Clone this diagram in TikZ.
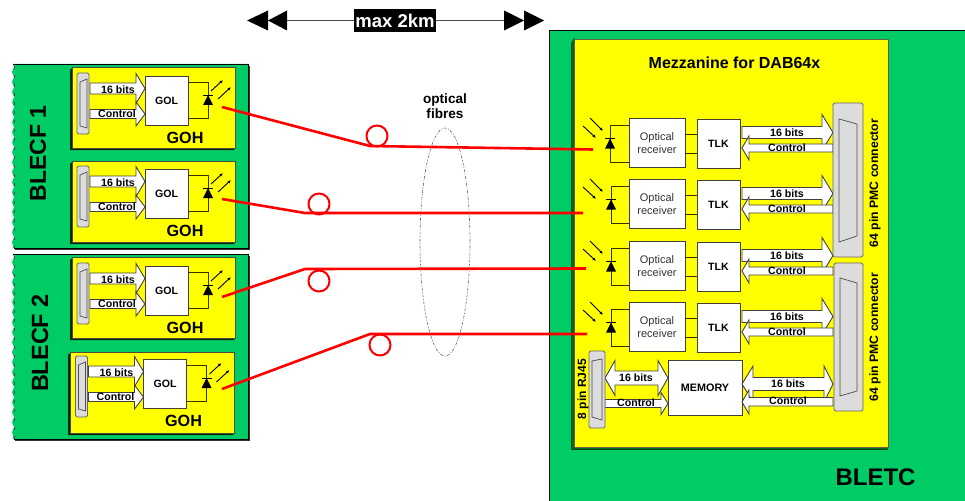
\documentclass[tikz,border=0pt]{standalone}
\usepackage{fontspec}
\setmainfont{Liberation Sans}
\usetikzlibrary{decorations.pathmorphing,arrows.meta,shapes.geometric}
\definecolor{bgreen}{HTML}{00CC66}
\definecolor{dgreen}{HTML}{006633}
\definecolor{byellow}{HTML}{FFFF00}
\definecolor{cgrey}{HTML}{DCDCDC}
\definecolor{wirec}{HTML}{333300}
\newcommand\sz[1]{\fontsize{#1}{#1}\selectfont\bfseries}
\tikzset{
  x=1pt,y=-1pt,
  every node/.style={inner sep=0pt,outer sep=0pt},
  blk/.style={draw=black!85!yellow,line width=.9pt,fill=white,line join=miter},
  wirel/.style={draw=wirec,line width=.9pt},
  ray/.style={draw=black,line width=.9pt,-{Latex[length=3.5pt,width=3pt]}},
  whitebox/.style={draw=black!85!yellow,line width=.9pt,fill=white,minimum width=#1},
  conn/.style={draw=black!60,line width=.8pt,fill=cgrey,rounded corners=1.5pt},
  connin/.style={draw=black!70,line width=.7pt,fill=cgrey},
  lab/.style={font=\sz{10.6}},
  fibre/.style={draw=red,line width=2.6pt},
  ring/.style={draw=red,line width=2pt,circle,minimum size=21pt},
  heading/.style={font=\sz{#1},text=black},
  headtip/.style={fill=black}
}
% right-pointing block arrow: tail x, tip x, base x, y, body half, head half
\newcommand\blockR[6]{\draw[blk] ({#1},{#4-#5}) -- ({#3},{#4-#5}) -- ({#3},{#4-#6}) -- ({#2},{#4}) -- ({#3},{#4+#6}) -- ({#3},{#4+#5}) -- ({#1},{#4+#5}) -- cycle;}
% double block arrow: left tip, left base, right base, right tip, y, body half, head half
\newcommand\blockD[7]{\draw[blk] ({#1},{#5}) -- ({#2},{#5-#7}) -- ({#2},{#5-#6}) -- ({#3},{#5-#6}) -- ({#3},{#5-#7}) -- ({#4},{#5}) -- ({#3},{#5+#7}) -- ({#3},{#5+#6}) -- ({#2},{#5+#6}) -- ({#2},{#5+#7}) -- cycle;}
% shaded panel
\newcommand\panel[4]{\fill[black!85!green] ({#1+1},{#2}) -- ({#1-2},{#2+3}) -- ({#1-2},{#4+2}) -- ({#3-1},{#4+2}) -- ({#3},{#4}) -- cycle;
  \draw[draw=black!80!yellow,line width=.7pt,fill=byellow] (#1,#2) rectangle (#3,#4);}
% diode, triangle pointing up
\newcommand\diode[3]{\fill[black] ({#1},{#2}) -- ({#1-5},{#3}) -- ({#1+5},{#3}) -- cycle;
  \draw[black,line width=.9pt] ({#1-5},{#2}) -- ({#1+5},{#2});}
% GOH contents
\newcommand\gohbody[3]{\begin{scope}[shift={(#2,#3)}]
  \node[whitebox=43pt,minimum height=49pt] (gol#1) at (166.5,100.5) {};
  \node[lab] (goltext#1) at (gol#1) {GOL};
  \blockR{90}{145}{136}{88.5}{5.5}{15}
  \blockR{90}{145}{136}{114}{4.5}{12}
  \node[lab] (bits#1) at (118,89.5) {16 bits};
  \node[lab] (ctl#1) at (117,114) {Control};
  \draw[conn] (77,73) rectangle (89,134);
  \draw[connin] (80,82) -- (87,79) -- (87,128) -- (80,126) -- cycle;
  \node[heading=16.2] (goh#1) at (185,137.5) {GOH};
  \coordinate (led#1) at (208,100);
  \draw[wirel] (gol#1.east |- 0,82) -| (led#1);
  \draw[wirel] (gol#1.east |- 0,118) -| (led#1);
  \diode{208}{95}{105}
  \draw[ray] (211,91) -- (223,80);
  \draw[ray] (218,99) -- (231,87);
\end{scope}}
% receiver row
\newcommand\rxrow[3]{\begin{scope}[shift={(0,#2)}]
  \node[whitebox=56pt,minimum height=49pt,align=center,font=\fontsize{11}{13}\selectfont,text=black!80] (rx#1) at (657,143) {Optical\\receiver};
  \node[whitebox=43pt,minimum height=49pt,font=\sz{10.6}] (tlk#1) at (718.5,143.5) {TLK};
  \draw[wirel] (rx#1.east |- 0,134) -- (tlk#1.west |- 0,134);
  \draw[wirel] (rx#1.east |- 0,153) -- (tlk#1.west |- 0,153);
  \coordinate (pd#1) at (#3,143);
  \draw[wirel] (rx#1.west |- 0,125) -| (pd#1);
  \draw[wirel] (rx#1.west |- 0,162) -| (pd#1);
  \diode{#3}{138.5}{148.5}
  \draw[ray] (583,126) -- (596,138);
  \draw[ray] (590,118) -- (603,131);
  \blockR{742}{833}{822}{132.5}{6}{18}
  \draw[blk] (833,144) -- (749,144) -- (749,136) -- (742,148) -- (749,160) -- (749,152) -- (833,152) -- cycle;
  \node[lab] (rb#1) at (787,132.5) {16 bits};
  \node[lab] (rc#1) at (787,147.5) {Control};
\end{scope}}
\begin{document}
\begin{tikzpicture}
\useasboundingbox (0,0) rectangle (965,500);
% --- BLECF boards
\fill[black!80] (15,66) rectangle (250,250);
\fill[bgreen] (13,64) decorate[decoration={snake,segment length=10pt,amplitude=1pt}] {-- (13,248)} -- (248,248) -- (248,64) -- cycle;
\draw[black,line width=.8pt] (13,64) -- (248,64) -- (248,248) -- (14,248);
\draw[black!70,line width=.6pt,dash pattern=on 3pt off 6pt] (14,66) -- (14,248);
\fill[black!80] (15,256) rectangle (250,441);
\fill[bgreen] (13,254) decorate[decoration={snake,segment length=10pt,amplitude=1pt}] {-- (13,439)} -- (248,439) -- (248,254) -- cycle;
\draw[black,line width=.8pt] (13,254) -- (248,254) -- (248,439) -- (14,439);
\draw[black!70,line width=.6pt,dash pattern=on 3pt off 6pt] (14,256) -- (14,439);
\node[heading=23,rotate=90] (b1) at (38,153.5) {BLECF 1};
\node[heading=23.5,rotate=90] (b2) at (40,343) {BLECF 2};
\panel{72}{67}{235}{148}
\panel{72}{161}{235}{242}
\panel{72}{257}{235}{338}
\panel{70}{352}{234}{433}
\gohbody{1}{0}{0}
\gohbody{2}{0}{93}
\gohbody{3}{0}{190}
\gohbody{4}{-1.5}{283}
% --- BLETC board
\draw[black,line width=.9pt,fill=bgreen] (549,30) rectangle (970,505);
\fill[dgreen] (574,38) -- (571,43) -- (571,449) -- (888,449) -- (888,446) -- cycle;
\draw[black!70!green,line width=.8pt] (571,43) -- (571,449) -- (888,449);
\draw[draw=black!70!yellow,line width=.7pt,fill=byellow] (574,39) rectangle (888,447);
\node[heading=16] (mez) at (734.5,63) {Mezzanine for DAB64x};
\node[heading=24] (bletc) at (875.5,477) {BLETC};
\rxrow{1}{0}{610}
\rxrow{2}{61}{611}
\rxrow{3}{123}{611}
\rxrow{4}{184}{611}
% memory row
\node[whitebox=74pt,minimum height=55pt,font=\sz{10.8}] (mem) at (705,387.5) {MEMORY};
\blockD{742}{753}{824}{833}{384}{6.5}{18}
\draw[blk] (833,397.5) -- (749,397.5) -- (749,390) -- (742,402) -- (749,414) -- (749,406) -- (833,406) -- cycle;
\node[lab] (mb) at (788,384) {16 bits};
\node[lab] (mc) at (788,401) {Control};
\blockD{605}{615}{658}{668}{378}{7}{17.5}
\blockR{605}{668}{661}{403.5}{4}{11}
\node[lab] (lb) at (636,378) {16 bits};
\node[lab] (lc) at (636,403) {Control};
% connectors
\draw[conn] (833,103) rectangle (863,257);
\draw[connin] (839,119) -- (857,124) -- (857,236) -- (839,242) -- cycle;
\draw[conn] (834,263) rectangle (863,411);
\draw[connin] (840,278) -- (857,283) -- (857,391) -- (840,396) -- cycle;
\draw[conn] (589,351) rectangle (605,428);
\draw[connin] (592,361) -- (602,359) -- (602,420) -- (592,417) -- cycle;
\node[heading=12.2,rotate=90] (p1) at (875,183) {64 pin PMC connector};
\node[heading=12.2,rotate=90] (p2) at (875,337) {64 pin PMC connector};
\node[heading=12,rotate=90] (rj) at (583,389) {8 pin RJ45};
% --- fibres
\coordinate (s1) at (222,107); \coordinate (k1) at (370,146); \coordinate (e1) at (593,149.5);
\coordinate (s2) at (222,199); \coordinate (k2) at (305,213); \coordinate (e2) at (583,213);
\coordinate (s3) at (222,297); \coordinate (k3) at (305,269); \coordinate (e3) at (586,268.5);
\coordinate (s4) at (222,389); \coordinate (k4) at (370,334); \coordinate (e4) at (587,334);
\draw[fibre] (s1) -- (k1) -- (e1);
\draw[fibre] (s2) -- (k2) -- (e2);
\draw[fibre] (s3) -- (k3) -- (e3);
\draw[fibre] (s4) -- (k4) -- (e4);
\node[ring] (r1) at (377,136) {};
\node[ring] (r2) at (319,204) {};
\node[ring] (r3) at (319,281) {};
\node[ring] (r4) at (380,345) {};
\node[draw=black!60,line width=.6pt,dash pattern=on 3pt off 1.5pt on 1pt off 1.5pt,ellipse,minimum width=50pt,minimum height=228pt] (loop) at (445,242) {};
\node[heading=13.6,align=center] (fib) at (445,106) {optical\\[1.6pt]fibres};
% --- max 2km
\node[fill=black,text=white,font=\sz{18.5},minimum width=82pt,minimum height=23pt] (mx) at (395,20.5) {max 2km};
\coordinate (la) at (287,20.5); \coordinate (ra) at (504,20.5);
\draw[black!70,line width=1pt] (la) -- (mx);
\draw[black!70,line width=1pt] (mx) -- (ra);
\fill[headtip] (247,20.5) -- (268,10.5) -- (268,30.5) -- cycle;
\fill[headtip] (268,20.5) -- (287,10.5) -- (287,30.5) -- cycle;
\fill[headtip] (524,20.5) -- (504,10.5) -- (504,30.5) -- cycle;
\fill[headtip] (544,20.5) -- (524,10.5) -- (524,30.5) -- cycle;
\end{tikzpicture}
\end{document}
